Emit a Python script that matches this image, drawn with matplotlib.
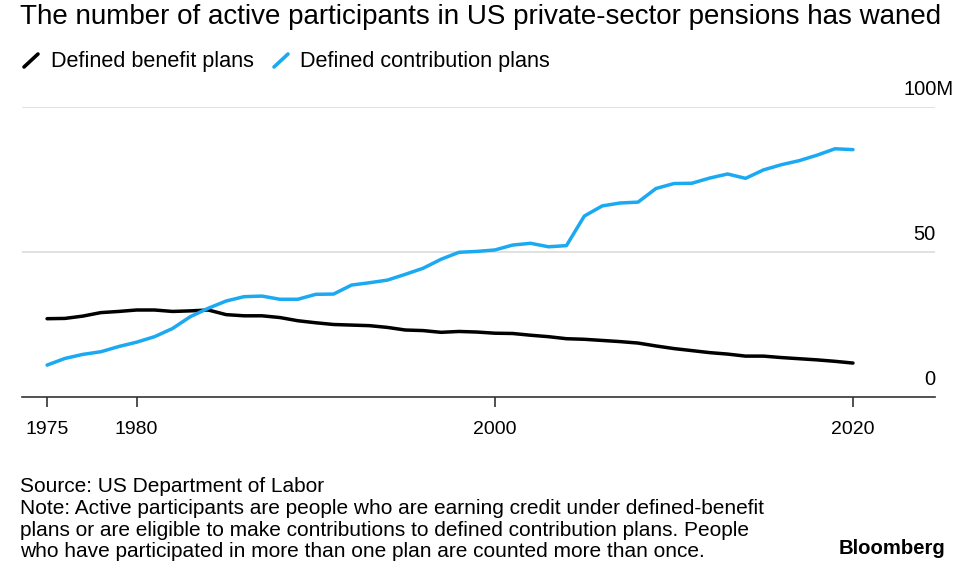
import matplotlib.pyplot as plt
from matplotlib.lines import Line2D

years = list(range(1975, 2021))

defined_benefit = [27.0, 27.1, 27.9, 29.1, 29.5, 30.0, 30.0, 29.5, 29.7, 30.0,
                   28.4, 28.0, 28.0, 27.4, 26.3, 25.6, 25.0, 24.8, 24.6, 24.0,
                   23.1, 22.9, 22.3, 22.6, 22.4, 22.0, 21.9, 21.3, 20.8, 20.1,
                   19.9, 19.5, 19.1, 18.6, 17.6, 16.7, 16.0, 15.3, 14.8, 14.1,
                   14.1, 13.6, 13.2, 12.8, 12.3, 11.7]

defined_contribution = [11.0, 13.3, 14.7, 15.6, 17.4, 18.9, 20.8, 23.6, 27.7, 30.6,
                        33.1, 34.6, 34.8, 33.7, 33.7, 35.4, 35.5, 38.6, 39.4, 40.3,
                        42.3, 44.4, 47.5, 49.9, 50.2, 50.7, 52.4, 53.0, 51.8, 52.2,
                        62.4, 65.9, 66.9, 67.2, 71.9, 73.6, 73.7, 75.5, 76.9, 75.4,
                        78.3, 80.1, 81.5, 83.4, 85.6, 85.3]

x_ticks = [1975, 1980, 2000, 2020]
y_ticks = [0, 50, 100]

plt.rcParams['font.family'] = ['Liberation Sans', 'DejaVu Sans']

blue = '#1ba9f1'

fig = plt.figure(figsize=(9.75, 5.82), dpi=100)
ax = fig.add_axes([22 / 975, 185 / 582, 913 / 975, 290 / 582])

for y in y_ticks[1:]:
    ax.axhline(y, color='#dcdcdc', linewidth=1.2, zorder=1)

ax.plot(years, defined_benefit, color='black', linewidth=2.5,
        solid_capstyle='round', solid_joinstyle='round', zorder=3)
ax.plot(years, defined_contribution, color=blue, linewidth=2.5,
        solid_capstyle='round', solid_joinstyle='round', zorder=3)

ax.set_xlim(1973.6, 2024.58)
ax.set_ylim(0, 100)

for side in ['top', 'right', 'left']:
    ax.spines[side].set_visible(False)
ax.spines['bottom'].set_color('#333333')
ax.spines['bottom'].set_linewidth(1.2)

ax.set_xticks(x_ticks)
ax.set_xticklabels([str(t) for t in x_ticks])
ax.tick_params(axis='x', direction='out', length=7, width=1.2, color='#333333',
               labelsize=14, pad=10)
ax.set_yticks([])

# y labels sit above the grid lines at the right edge
for y in y_ticks:
    label = '100M' if y == 100 else str(y)
    xpos = 2025.6 if y == 100 else 2024.58
    ax.text(xpos, y + 2.8, label, ha='right', va='bottom', fontsize=14.5)

fig.text(20 / 975, 1 - 17 / 582, 'The number of active participants in US private-sector pensions has waned',
         ha='left', va='center', fontsize=20)

# legend with slash markers
legend_y = 1 - 61 / 582
fig.add_artist(Line2D([24 / 975, 38 / 975], [1 - 67 / 582, 1 - 54 / 582],
                      color='black', linewidth=2.6, solid_capstyle='round'))
fig.text(51 / 975, legend_y, 'Defined benefit plans', ha='left', va='center', fontsize=15.6)
fig.add_artist(Line2D([274 / 975, 288 / 975], [1 - 67 / 582, 1 - 54 / 582],
                      color=blue, linewidth=2.6, solid_capstyle='round'))
fig.text(300 / 975, legend_y, 'Defined contribution plans', ha='left', va='center', fontsize=15.6)

footer = ['Source: US Department of Labor',
          'Note: Active participants are people who are earning credit under defined-benefit',
          'plans or are eligible to make contributions to defined contribution plans. People',
          'who have participated in more than one plan are counted more than once.']
for i, line in enumerate(footer):
    fig.text(20 / 975, 1 - (487 + i * 21.5) / 582, line, ha='left', va='center', fontsize=15)

fig.text(945 / 975, 1 - 549 / 582, 'Bloomberg', ha='right', va='center',
         fontsize=14.6, fontweight='bold')

fig.savefig('out.png', dpi=100)
